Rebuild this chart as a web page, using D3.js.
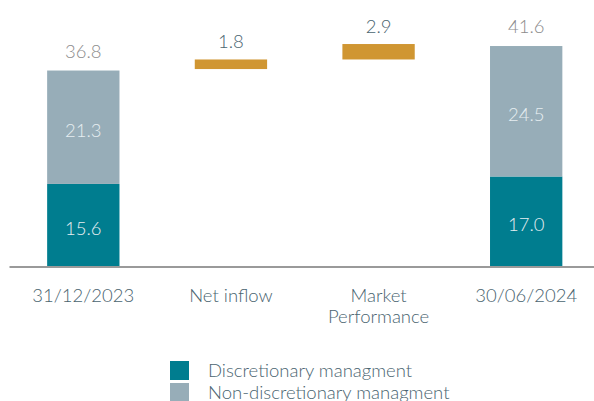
<!DOCTYPE html>
<html>
<head>
<meta charset="utf-8">
<script src="https://cdn.jsdelivr.net/npm/d3@7"></script>
<style>
  body { margin: 0; background: #fff; }
  svg { display: block; font-family: Lato, "Open Sans", sans-serif; }
</style>
</head>
<body>
<svg></svg>
<script>
// data
var categories = ["31/12/2023", "Net inflow", "Market\nPerformance", "30/06/2024"]
var discretionary = [15.6, null, null, 17.0]
var nonDiscretionary = [21.3, null, null, 24.5]
var totals = [36.8, null, null, 41.6]
var changes = [null, 1.8, 2.9, null]
var legendLabels = ["Discretionary managment", "Non-discretionary managment"]

var dimensions = {
    width: 594,
    height: 401,
    axisY: 267,
    left: 9.5,
    right: 600
}

var fontSize = 18.5

var colors = {
    disc: "#007d8f",
    nondisc: "#97adb8",
    change: "#d09632",
    axis: "#9a9a9a",
    text: "#4a6470",
    total: "#8c8c8c",
    inside: "#e6eef1"
}

var svg = d3.select("svg")
            .attr("width", dimensions.width)
            .attr("height", dimensions.height)

var xScale = d3.scaleBand()
               .domain(categories)
               .range([dimensions.left, dimensions.right])
               .paddingInner(0.51)
               .paddingOuter(0.255)

var yScale = d3.scaleLinear()
               .domain([0, 41.6])
               .range([dimensions.axisY, 45.5])

// running base for the floating bars
var bases = []
var running = 0
categories.forEach((c, i) => {
    if (totals[i] != null) { bases.push(0); running = totals[i] }
    else { bases.push(running); running += changes[i] }
})

var rows = categories.map((c, i) => ({
    cat: c, disc: discretionary[i], nondisc: nonDiscretionary[i],
    total: totals[i], change: changes[i], base: bases[i]
}))

var stacked = rows.filter(d => d.total != null)
var floating = rows.filter(d => d.change != null)

// stacked bars
svg.append("g").selectAll("rect")
   .data(stacked).enter().append("rect")
   .attr("x", d => xScale(d.cat))
   .attr("width", xScale.bandwidth())
   .attr("y", d => yScale(d.disc))
   .attr("height", d => yScale(0) - yScale(d.disc))
   .attr("fill", colors.disc)

svg.append("g").selectAll("rect")
   .data(stacked).enter().append("rect")
   .attr("x", d => xScale(d.cat))
   .attr("width", xScale.bandwidth())
   .attr("y", d => yScale(d.disc + d.nondisc))
   .attr("height", d => yScale(d.disc) - yScale(d.disc + d.nondisc))
   .attr("fill", colors.nondisc)

// floating change bars
svg.append("g").selectAll("rect")
   .data(floating).enter().append("rect")
   .attr("x", d => xScale(d.cat))
   .attr("width", xScale.bandwidth())
   .attr("y", d => yScale(d.base + d.change) - 2)
   .attr("height", d => yScale(d.base) - yScale(d.base + d.change))
   .attr("fill", colors.change)

// inside labels
var inside = svg.append("g")
                .attr("font-size", fontSize)
                .attr("font-weight", 300)
                .attr("fill", colors.inside)
                .attr("text-anchor", "middle")
inside.selectAll(".disc")
      .data(stacked).enter().append("text")
      .attr("x", d => xScale(d.cat) + xScale.bandwidth() / 2)
      .attr("y", d => (yScale(0) + yScale(d.disc)) / 2 + 9.5)
      .text(d => d.disc.toFixed(1))
inside.selectAll(".nondisc")
      .data(stacked).enter().append("text")
      .attr("x", d => xScale(d.cat) + xScale.bandwidth() / 2)
      .attr("y", d => (yScale(d.disc) + yScale(d.disc + d.nondisc)) / 2 + 9.5)
      .text(d => d.nondisc.toFixed(1))

// labels above bars
var topLabels = svg.append("g")
             .attr("font-size", fontSize)
             .attr("font-weight", 300)
             .attr("text-anchor", "middle")
topLabels.selectAll("text.total")
   .data(stacked).enter().append("text")
   .attr("class", "total")
   .attr("fill", colors.total)
   .attr("x", d => xScale(d.cat) + xScale.bandwidth() / 2)
   .attr("y", d => yScale(d.total) - 13)
   .text(d => d.total.toFixed(1))
topLabels.selectAll("text.change")
   .data(floating).enter().append("text")
   .attr("class", "change")
   .attr("fill", colors.text)
   .attr("x", d => xScale(d.cat) + xScale.bandwidth() / 2)
   .attr("y", d => yScale(d.base + d.change) - 13)
   .text(d => d.change.toFixed(1))

// axis
var xAxis = d3.axisBottom(xScale).tickSize(0).tickFormat("")
var axisG = svg.append("g")
               .attr("transform", "translate(0," + dimensions.axisY + ")")
               .call(xAxis)
axisG.select(".domain")
     .attr("stroke", colors.axis)
     .attr("stroke-width", 2)
     .attr("d", "M" + dimensions.left + ",0H" + dimensions.width)

var catLabels = svg.append("g")
                   .attr("font-size", fontSize)
                   .attr("font-weight", 300)
                   .attr("fill", colors.text)
                   .attr("text-anchor", "middle")
categories.forEach(c => {
    var t = catLabels.append("text")
                     .attr("x", xScale(c) + xScale.bandwidth() / 2)
                     .attr("y", 301.5)
    c.split("\n").forEach((line, j) => {
        t.append("tspan")
         .attr("x", xScale(c) + xScale.bandwidth() / 2)
         .attr("dy", j == 0 ? 0 : 21.5)
         .text(line)
    })
})

// legend
var legend = svg.append("g")
var legendColors = [colors.disc, colors.nondisc]
legendLabels.forEach((l, i) => {
    legend.append("rect")
          .attr("x", 170)
          .attr("y", 361 + i * 22)
          .attr("width", 19)
          .attr("height", 19)
          .attr("fill", legendColors[i])
    legend.append("text")
          .attr("x", 208)
          .attr("y", 377 + i * 21.5)
          .attr("font-size", fontSize)
          .attr("font-weight", 300)
          .attr("fill", colors.text)
          .text(l)
})
</script>
</body>
</html>
